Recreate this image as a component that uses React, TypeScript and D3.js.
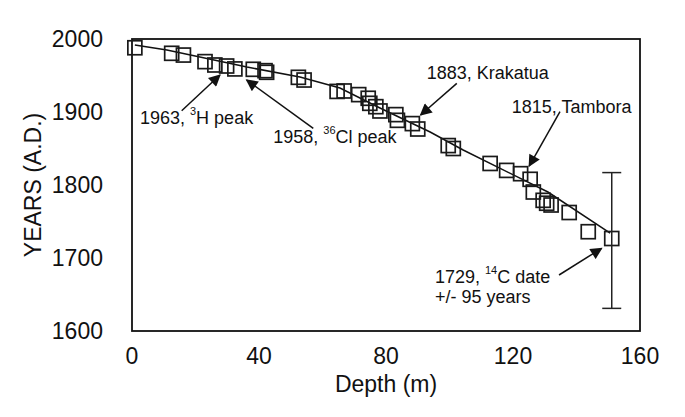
import React from "react";
import * as d3 from "d3";

// Measured depth (m) and assigned years (A.D.)
const depths = [0.9, 12.5, 16.2, 23, 26.1, 29.8, 32.4, 38.2, 41.9, 42.4, 52.4, 54.2, 64.6, 66.8, 71.4, 74.4, 74.9, 76.8, 78.1, 83.1, 83.6, 88.3, 90, 99.6, 101.2, 112.8, 118, 122.4, 125.4, 126.4, 129.5, 130.6, 132, 137.7, 143.7, 151.1];
const years = [1988, 1980.4, 1978, 1969, 1964.4, 1963, 1959, 1958.5, 1956.6, 1954.4, 1947.5, 1943.8, 1928.2, 1928.8, 1923.8, 1918.8, 1911.9, 1907.3, 1901.4, 1896.4, 1888.6, 1884.1, 1876.7, 1854, 1850, 1829.5, 1820, 1815.5, 1807.8, 1790.4, 1779, 1775, 1772.6, 1762.3, 1736, 1726.7];

// Model (age-depth) line
const modelDepth = [0.9, 11, 36.2, 52.9, 65.5, 78.1, 93.9, 104.3, 131, 150.6];
const modelYear = [1991.8, 1984.9, 1961.6, 1947.9, 1932.9, 1905.5, 1872.6, 1847.9, 1790.4, 1734.2];

// 14C error bar
const errDepth = [151.1];
const errLow = [1631];
const errHigh = [1817];

const xTicks = [0, 40, 80, 120, 160];
const yTicks = [1600, 1700, 1800, 1900, 2000];

// Annotations: text anchor (depth, year), arrow from/to (depth, year)
const annLabels = ["1963, |3|H peak", "1958, |36|Cl peak", "1883, Krakatua", "1815, Tambora", "1729, |14|C date"];
const annTextDepth = [2.5, 44.5, 92.8, 119.6, 95.4];
const annTextYear = [1891.4, 1866.2, 1953, 1907.3, 1674.4];
const arrowFromDepth = [15.65, 57.1, 102.3, 134.8, 134.5];
const arrowFromYear = [1901.8, 1877.7, 1939.3, 1900.4, 1676.7];
const arrowToDepth = [27.7, 36.1, 90.9, 125.1, 147.9];
const arrowToYear = [1950.7, 1943.8, 1895.9, 1826, 1713.3];
const extraLabel = "+/- 95 years";
const extraDepth = 95.4;
const extraYear = 1647;

const W = 685;
const H = 417;
const FONT = "'Liberation Sans', Arial, sans-serif";

function RichText({ label, x, y }: { label: string; x: number; y: number }) {
  const parts = label.split("|");
  return (
    <text x={x} y={y} fontSize={18} fontFamily={FONT} fill="#111" dominantBaseline="central">
      {parts.map((p, i) =>
        i % 2 === 1 ? (
          <tspan key={i} fontSize={11} dy={-7}>{p}</tspan>
        ) : (
          <tspan key={i} dy={i > 0 ? 7 : 0}>{p}</tspan>
        )
      )}
    </text>
  );
}

export default function App() {
  const x = d3.scaleLinear().domain([0, 160]).range([132, 640]);
  const y = d3.scaleLinear().domain([1600, 2000]).range([331, 39]);
  const line = d3
    .line<number>()
    .x((_, i) => x(modelDepth[i]))
    .y((_, i) => y(modelYear[i]));
  const box = 14;

  return (
    <svg width={W} height={H} style={{ position: "absolute", left: 0, top: 0, background: "#fff" }}>
      <defs>
        <marker id="ah" viewBox="0 0 10 10" refX="9" refY="5" markerWidth="13" markerHeight="12" markerUnits="userSpaceOnUse" orient="auto">
          <path d="M0,0 L10,5 L0,10 z" fill="#111" />
        </marker>
      </defs>
      {/* frame */}
      <rect x={x(0)} y={y(2000)} width={x(160) - x(0)} height={y(1600) - y(2000)} fill="none" stroke="#111" strokeWidth={1.8} />

      {/* model line */}
      <path d={line(modelDepth) || ""} fill="none" stroke="#111" strokeWidth={1.5} />

      {/* data boxes */}
      {depths.map((d, i) => (
        <rect key={i} x={x(d) - box / 2} y={y(years[i]) - box / 2} width={box} height={box} fill="none" stroke="#1a1a1a" strokeWidth={1.7} />
      ))}

      {/* error bar */}
      {errDepth.map((d, i) => (
        <g key={i} stroke="#222" strokeWidth={1.5}>
          <line x1={x(d)} x2={x(d)} y1={y(errLow[i])} y2={y(errHigh[i])} />
          <line x1={x(d) - 9.5} x2={x(d) + 9.5} y1={y(errLow[i])} y2={y(errLow[i])} />
          <line x1={x(d) - 9.5} x2={x(d) + 9.5} y1={y(errHigh[i])} y2={y(errHigh[i])} />
        </g>
      ))}

      {/* annotations */}
      {annLabels.map((l, i) => (
        <RichText key={i} label={l} x={x(annTextDepth[i])} y={y(annTextYear[i])} />
      ))}
      <text x={x(extraDepth)} y={y(extraYear)} fontSize={18} fontFamily={FONT} fill="#111" dominantBaseline="central">{extraLabel}</text>
      {arrowFromDepth.map((d, i) => (
        <line key={i} x1={x(d)} y1={y(arrowFromYear[i])} x2={x(arrowToDepth[i])} y2={y(arrowToYear[i])} stroke="#111" strokeWidth={1.5} markerEnd="url(#ah)" />
      ))}

      {/* y axis labels */}
      {yTicks.map((t) => (
        <text key={t} x={103} y={y(t)} textAnchor="end" dominantBaseline="central" fontSize={23} fontFamily={FONT} fill="#111">{t}</text>
      ))}
      {/* x axis labels */}
      {xTicks.map((t) => (
        <text key={t} x={x(t)} y={356} textAnchor="middle" dominantBaseline="central" fontSize={23} fontFamily={FONT} fill="#111">{t}</text>
      ))}
      <text x={(x(0) + x(160)) / 2} y={384} textAnchor="middle" dominantBaseline="central" fontSize={23} fontFamily={FONT} fill="#111">Depth (m)</text>
      <text transform={`translate(33, ${(y(1600) + y(2000)) / 2}) rotate(-90)`} textAnchor="middle" dominantBaseline="central" fontSize={23} fontFamily={FONT} fill="#111">YEARS (A.D.)</text>
    </svg>
  );
}
